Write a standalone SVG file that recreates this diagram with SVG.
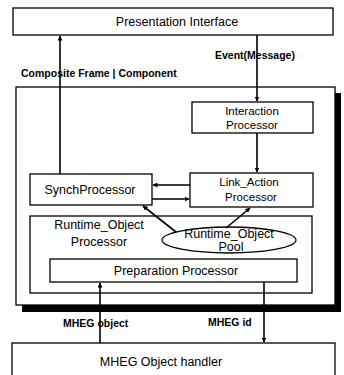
<svg xmlns="http://www.w3.org/2000/svg" width="344" height="375" viewBox="0 0 344 375">
<defs>
<marker id="ah" viewBox="0 0 10 10" refX="9" refY="5" markerWidth="5" markerHeight="5" orient="auto-start-reverse" markerUnits="userSpaceOnUse">
<path d="M0,0 L10,5 L0,10 z" fill="#000"/>
</marker>
</defs>
<style>
.box{fill:#fff;stroke:#000;stroke-width:1.3}
.t{font-family:"Liberation Sans",Arial,sans-serif;font-size:12.5px;fill:#000;text-anchor:middle}
.s{font-size:11.5px}
.lbl{font-family:"Liberation Sans",Arial,sans-serif;font-size:10.5px;font-weight:bold;fill:#000}
.c{stroke:#000;stroke-width:1.6;fill:none}
</style>
<rect width="344" height="375" fill="#fff"/>

<g id="presentation">
<rect class="box" x="13" y="8" width="320" height="27"/>
<text class="t" x="177" y="26" font-size="13">Presentation Interface</text>
</g>

<g id="frame">
<rect x="22" y="93" width="319" height="219" fill="#000"/>
<rect class="box" x="16" y="87" width="319" height="218"/>
<text class="lbl" x="21" y="77">Composite Frame | Component</text>
</g>

<g id="interaction">
<rect class="box" x="192" y="102" width="121" height="31"/>
<text class="t s" x="252" y="115">Interaction</text>
<text class="t s" x="252" y="129">Processor</text>
</g>

<g id="synch">
<rect class="box" x="30" y="174" width="122" height="31"/>
<text class="t" x="90" y="194">SynchProcessor</text>
</g>

<g id="linkaction">
<rect class="box" x="190" y="173" width="123" height="34"/>
<text class="t s" x="249" y="186">Link_Action</text>
<text class="t s" x="251" y="201">Processor</text>
</g>

<g id="runtime">
<rect class="box" x="30" y="216" width="282" height="77"/>
<text class="t" x="99" y="229">Runtime_Object</text>
<text class="t" x="99" y="246">Processor</text>
</g>

<g id="pool">
<ellipse class="box" cx="229" cy="240" rx="67" ry="13"/>
<text class="t" x="229" y="238">Runtime_Object</text>
<text class="t" x="231" y="251">Pool</text>
</g>

<g id="preparation">
<rect class="box" x="50" y="259" width="247" height="23"/>
<text class="t" x="176" y="275">Preparation Processor</text>
</g>

<g id="handler">
<rect class="box" x="12" y="343" width="323" height="40"/>
<text class="t" x="161" y="366" font-size="11.5">MHEG Object handler</text>
</g>

<g id="connectors">
<path class="c" d="M60,174 V36" marker-end="url(#ah)"/>
<path class="c" d="M257,35 V101" marker-end="url(#ah)"/>
<text class="lbl" x="215" y="59">Event(Message)</text>
<path class="c" d="M257,133 V172" marker-end="url(#ah)"/>
<path class="c" d="M190,185 H153" marker-end="url(#ah)"/>
<path class="c" d="M152,199 H189" marker-end="url(#ah)"/>
<path class="c" d="M176,232 L143,206" marker-end="url(#ah)"/>
<path class="c" d="M226,228 L250,208" marker-end="url(#ah)"/>
<path class="c" d="M100,343 V283" marker-end="url(#ah)"/>
<path class="c" d="M264,282 V342" marker-end="url(#ah)"/>
<text class="lbl" x="63" y="327" font-size="9.5">MHEG object</text>
<text class="lbl" x="208" y="326" font-size="9.5">MHEG id</text>
</g>
</svg>
